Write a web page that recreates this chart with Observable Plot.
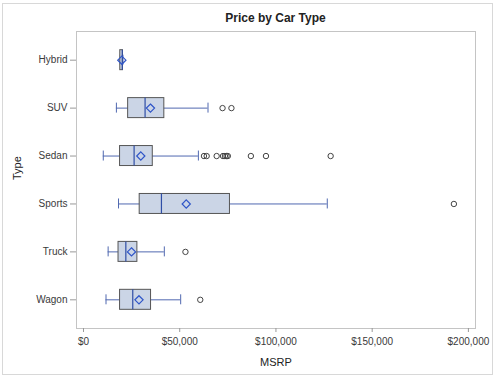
<!DOCTYPE html>
<html>
<head>
<meta charset="utf-8">
<script src="https://cdn.jsdelivr.net/npm/d3@7"></script>
<script src="https://cdn.jsdelivr.net/npm/@observablehq/plot@0.6"></script>
<style>
  html, body { margin: 0; padding: 0; background: #fff; }
  #wrap { position: relative; width: 500px; height: 379px; overflow: hidden; font-family: "Liberation Sans", Arial, sans-serif; }
  #border { position: absolute; left: 2px; top: 3px; width: 489px; height: 370px; border: 1px solid #d8d8d8; pointer-events: none; }
  #title { position: absolute; left: 76px; width: 399px; top: 11px; text-align: center; font-size: 12px; font-weight: bold; color: #222; }
  #chart { position: absolute; left: 0; top: 30px; }
</style>
</head>
<body>
<div id="wrap">
  <div id="title">Price by Car Type</div>
  <div id="chart"></div>
  <div id="border"></div>
</div>
<script>
const types = ["Hybrid", "SUV", "Sedan", "Sports", "Truck", "Wagon"];
const whiskerLow  = [19110, 17100, 10280, 18200, 12800, 11700];
const q1          = [19110, 23200, 19000, 29200, 18200, 19000];
const median      = [20140, 32000, 26300, 40500, 22000, 25600];
const mean        = [19920, 34790, 29773, 53387, 24941, 28840];
const q3          = [20510, 42000, 36000, 76100, 28000, 35100];
const whiskerHigh = [20510, 64700, 59700, 126670, 42000, 50500];
const outlierType  = ["SUV", "SUV", "Sedan", "Sedan", "Sedan", "Sedan", "Sedan", "Sedan", "Sedan", "Sedan", "Sedan", "Sedan", "Sports", "Truck", "Wagon"];
const outlierValue = [72250, 76870, 62600, 64000, 69190, 72500, 73500, 74320, 74995, 86970, 94820, 128420, 192465, 52975, 60670];
const xTicks = [0, 50000, 100000, 150000, 200000];

const stats = types.map((t, i) => ({
  type: t, lo: whiskerLow[i], q1: q1[i], med: median[i], mean: mean[i], q3: q3[i], hi: whiskerHigh[i]
}));
const outliers = outlierType.map((t, i) => ({type: t, value: outlierValue[i]}));

const fmt = d => "$" + d3.format(",")(d);

const chart = Plot.plot({
  width: 500,
  height: 349,
  marginTop: 1,
  marginBottom: 51,
  marginLeft: 76,
  marginRight: 25,
  style: { fontFamily: "Liberation Sans, Arial, sans-serif", fontSize: "10px", color: "#3a3a3a", background: "transparent" },
  x: { domain: [-3634, 203690] },
  y: { domain: types, type: "band", paddingInner: 0.583, paddingOuter: 0.39, round: false },
  marks: [
    Plot.frame({ stroke: "#c4c4c4" }),
    Plot.axisX({ ticks: xTicks, tickFormat: fmt, tickSize: 4, tickPadding: 5, stroke: "#999", label: null }),
    Plot.axisY({ tickSize: 6, tickPadding: 3, stroke: "#999", label: null }),
    Plot.text(["MSRP"], { frameAnchor: "bottom", dy: 37, fontSize: 11, fill: "#222" }),
    Plot.text(["Type"], { frameAnchor: "left", dx: -59, rotate: -90, fontSize: 11, fill: "#222" }),
    Plot.ruleY(stats, { y: "type", x1: "lo", x2: "hi", stroke: "#5068b0", strokeWidth: 1 }),
    Plot.tickX(stats, { y: "type", x: "lo", stroke: "#5068b0", insetTop: 5, insetBottom: 5 }),
    Plot.tickX(stats, { y: "type", x: "hi", stroke: "#5068b0", insetTop: 5, insetBottom: 5 }),
    Plot.barX(stats, { y: "type", x1: "q1", x2: "q3", fill: "#cbd5e6", stroke: "#555", strokeWidth: 1 }),
    Plot.tickX(stats, { y: "type", x: "med", stroke: "#2f4ea6", strokeWidth: 1.2 }),
    Plot.dot(stats, { y: "type", x: "mean", symbol: "diamond2", r: 3.7, stroke: "#2f55c8", fill: "none", strokeWidth: 1.2 }),
    Plot.dot(outliers, { y: "type", x: "value", r: 2.7, stroke: "#444", fill: "none", strokeWidth: 1 })
  ]
});
document.getElementById("chart").appendChild(chart);
</script>
</body>
</html>
